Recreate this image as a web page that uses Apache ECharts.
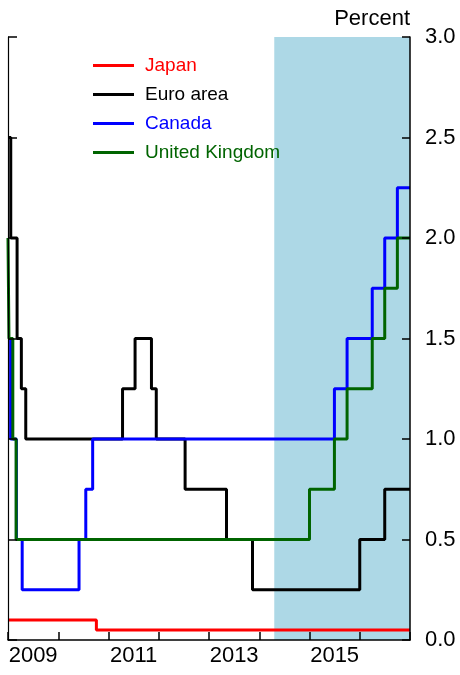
<!DOCTYPE html>
<html>
<head>
<meta charset="utf-8">
<script src="https://cdn.jsdelivr.net/npm/echarts@6/dist/echarts.min.js"></script>
<style>
html,body{margin:0;padding:0;background:#fff;}
#chart{width:460px;height:675px;}
</style>
</head>
<body>
<div id="chart"></div>
<script>
// ---- data (step changes: date of change, new rate) ----
var seriesNames = ['Japan', 'Euro area', 'Canada', 'United Kingdom'];

var japanDates = ['2009-01-01', '2010-10-05', '2017-01-01'];
var japanRates = [0.1, 0.05, 0.05];

var euroDates = ['2009-01-01', '2009-01-21', '2009-03-08', '2009-04-08', '2009-05-10', '2011-04-13', '2011-07-13', '2011-11-09', '2011-12-14', '2012-07-11', '2013-05-08', '2013-11-13', '2016-01-01', '2016-07-01', '2017-01-01'];
var euroRates = [2.5, 2.0, 1.5, 1.25, 1.0, 1.25, 1.5, 1.25, 1.0, 0.75, 0.5, 0.25, 0.5, 0.75, 0.75];

var canadaDates = ['2009-01-01', '2009-01-20', '2009-03-03', '2009-04-14', '2010-06-01', '2010-07-20', '2010-09-08', '2015-07-01', '2015-10-01', '2016-04-01', '2016-07-01', '2016-10-01', '2017-01-01'];
var canadaRates = [1.5, 1.0, 0.5, 0.25, 0.5, 0.75, 1.0, 1.25, 1.5, 1.75, 2.0, 2.25, 2.25];

var ukDates = ['2009-01-01', '2009-01-08', '2009-02-05', '2009-03-01', '2015-01-01', '2015-07-01', '2015-10-01', '2016-04-01', '2016-07-01', '2016-10-01', '2017-01-01'];
var ukRates = [2.0, 1.5, 1.0, 0.5, 0.75, 1.0, 1.25, 1.5, 1.75, 2.0, 2.0];

var projectionStart = '2014-04-20';
var projectionEnd = '2017-01-01';

var yearLabels = ['2009', '2010', '2011', '2012', '2013', '2014', '2015', '2016'];
var yTicks = { min: 0, max: 3, interval: 0.5 };
var colors = ['#ff0000', '#000000', '#0000ff', '#006400'];

// ---- helpers ----
function decYear(s) {
  var p = s.split('-');
  var y = +p[0];
  var t = Date.UTC(y, +p[1] - 1, +p[2]);
  var a = Date.UTC(y, 0, 1), b = Date.UTC(y + 1, 0, 1);
  return y + (t - a) / (b - a);
}
function pairs(dates, vals) {
  return dates.map(function (d, i) { return [decYear(d), vals[i]]; });
}

var FONT = 'Liberation Sans, Arial, sans-serif';
var allData = [pairs(japanDates, japanRates), pairs(euroDates, euroRates), pairs(canadaDates, canadaRates), pairs(ukDates, ukRates)];

var series = seriesNames.map(function (n, i) {
  return {
    name: n,
    type: 'line',
    step: 'end',
    xAxisIndex: 0,
    yAxisIndex: 0,
    symbol: 'none',
    data: allData[i],
    lineStyle: { color: colors[i], width: 3 },
    itemStyle: { color: colors[i] },
    z: 3 + i,
    animation: false
  };
});
series.unshift({
  name: 'proj',
  type: 'line',
  data: [],
  xAxisIndex: 0,
  yAxisIndex: 0,
  z: 1,
  markArea: {
    silent: true,
    itemStyle: { color: '#add8e6' },
    data: [[{ xAxis: decYear(projectionStart) }, { xAxis: decYear(projectionEnd) }]]
  }
});

var axisLine = { show: true, lineStyle: { color: '#000', width: 1.5 } };
var tick = { show: true, inside: true, length: 8, lineStyle: { color: '#000', width: 1.5 } };

var option = {
  animation: false,
  backgroundColor: '#fff',
  grid: { left: 8, right: 50, top: 37, bottom: 35, containLabel: false },
  legend: {
    orient: 'vertical',
    left: 93,
    top: 56,
    padding: 0,
    itemGap: 10,
    icon: 'rect',
    itemWidth: 41,
    itemHeight: 3,
    data: seriesNames.map(function (n, i) {
      return { name: n, textStyle: { color: colors[i] } };
    }),
    textStyle: { fontFamily: FONT, fontSize: 19, padding: [0, 0, 0, 6] },
    selectedMode: false
  },
  xAxis: [
    {
      type: 'value', min: 2009, max: 2017, interval: 1, position: 'bottom', z: 10,
      axisLine: axisLine, axisTick: tick, axisLabel: { show: false }, splitLine: { show: false }
    },
    {
      type: 'category', data: yearLabels, boundaryGap: true, position: 'bottom', z: 10,
      axisLine: { show: false }, axisTick: { show: false }, splitLine: { show: false },
      axisLabel: { interval: 1, margin: 5, color: '#000', fontFamily: FONT, fontSize: 22 }
    }
  ],
  yAxis: [
    {
      type: 'value', position: 'right', min: yTicks.min, max: yTicks.max, interval: yTicks.interval, z: 10,
      axisLine: axisLine, axisTick: tick, splitLine: { show: false },
      axisLabel: { margin: 15, color: '#000', fontFamily: FONT, fontSize: 22, formatter: function (v) { return v.toFixed(1); } },
      name: 'Percent', nameLocation: 'end', nameGap: 18,
      nameTextStyle: { color: '#000', fontFamily: FONT, fontSize: 22, align: 'right', verticalAlign: 'middle' }
    },
    {
      type: 'value', position: 'left', min: yTicks.min, max: yTicks.max, interval: yTicks.interval, z: 10,
      axisLine: { show: true, lineStyle: { color: '#000', width: 1.2 } },
      axisTick: { show: true, inside: true, length: 9, lineStyle: { color: '#000', width: 1.5 } },
      axisLabel: { show: false }, splitLine: { show: false }
    }
  ],
  series: series
};

var chart = echarts.init(document.getElementById('chart'), null, { renderer: 'canvas' });
chart.setOption(option);
</script>
</body>
</html>
